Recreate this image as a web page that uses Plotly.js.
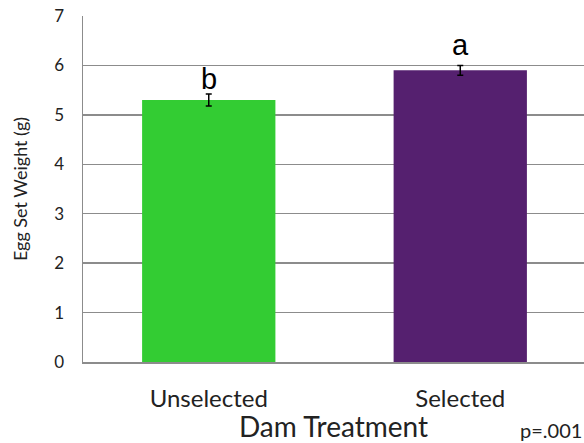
<!DOCTYPE html>
<html>
<head>
<meta charset="utf-8">
<script src="https://cdn.plot.ly/plotly-3.0.1.min.js"></script>
<style>
  html, body { margin: 0; padding: 0; background: #ffffff; }
  #chart { width: 584px; height: 443px; }
</style>
</head>
<body>
<div id="chart"></div>
<script>
// Egg set weight by dam treatment
const categories = ['Unselected', 'Selected'];
const meanWeight = [5.3, 5.9];
const stdError = [0.12, 0.1];
const groupLetters = ['b', 'a'];
const barColors = ['#33cc33', '#55206f'];
const yTicks = [0, 1, 2, 3, 4, 5, 6, 7];
const pValueText = 'p=.001';

const trace = {
  type: 'bar',
  x: categories,
  y: meanWeight,
  width: 0.53,
  marker: { color: barColors, line: { width: 0 } },
  error_y: {
    type: 'data',
    array: stdError,
    visible: true,
    color: '#000000',
    thickness: 1.5,
    width: 3
  },
  hoverinfo: 'x+y'
};

// significance letters sit just above each error bar
const letterLift = [-3, 2];
const letterNotes = categories.map((c, i) => ({
  x: c,
  y: meanWeight[i] + stdError[i],
  xref: 'x',
  yref: 'y',
  text: groupLetters[i],
  showarrow: false,
  yanchor: 'bottom',
  yshift: letterLift[i],
  font: { family: 'Liberation Sans, Arial, sans-serif', size: 29, color: '#000000' }
}));

const layout = {
  width: 584,
  height: 443,
  margin: { l: 83, r: 0, t: 16, b: 81 },
  paper_bgcolor: '#ffffff',
  plot_bgcolor: '#ffffff',
  showlegend: false,
  font: { family: 'Lato, sans-serif', color: '#222222' },
  xaxis: {
    range: [-0.5, 1.492],
    showgrid: false,
    showline: true,
    linecolor: '#8c8c8c',
    linewidth: 1.5,
    ticks: '',
    ticklabelstandoff: 15,
    tickfont: { size: 24, color: '#222222' },
    title: { text: 'Dam Treatment', font: { size: 28, color: '#222222' }, standoff: 0 },
    fixedrange: true
  },
  yaxis: {
    range: [0, 7],
    tickvals: yTicks,
    showgrid: true,
    gridcolor: '#8c8c8c',
    gridwidth: 1.5,
    showline: true,
    linecolor: '#8c8c8c',
    linewidth: 1.5,
    zeroline: false,
    ticks: '',
    ticklabelstandoff: 14,
    tickfont: { size: 17, color: '#222222' },
    title: { text: 'Egg Set Weight (g)', font: { size: 18, color: '#222222' }, standoff: 22 },
    fixedrange: true
  },
  annotations: letterNotes.concat([{
    xref: 'paper',
    yref: 'paper',
    x: 1,
    y: 0,
    xanchor: 'right',
    yanchor: 'top',
    xshift: 0,
    yshift: -54,
    text: pValueText,
    showarrow: false,
    font: { size: 20, color: '#222222' }
  }])
};

Plotly.newPlot('chart', [trace], layout, { displayModeBar: false, staticPlot: true });
</script>
</body>
</html>
